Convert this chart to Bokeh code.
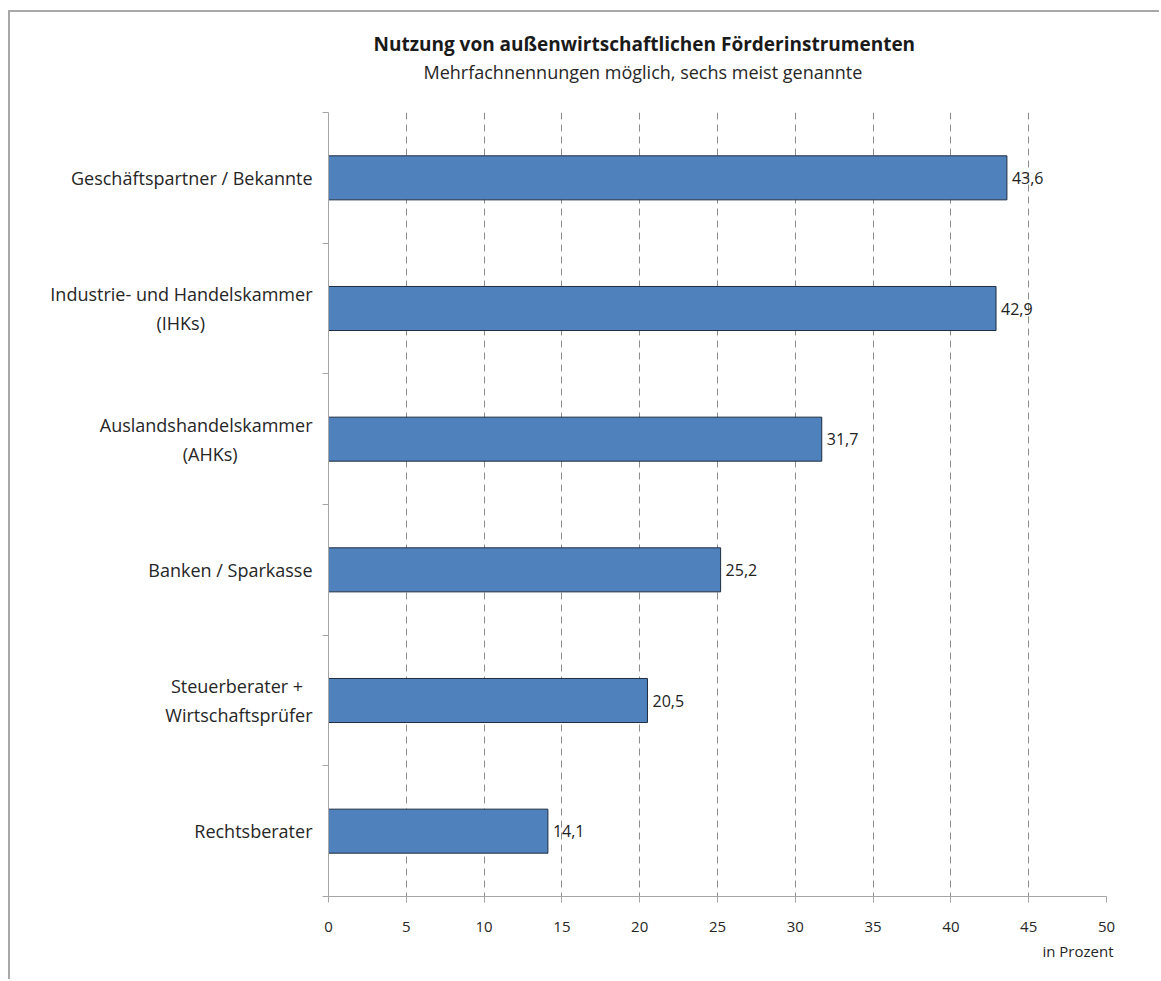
from bokeh.plotting import figure
from bokeh.models import Range1d, FixedTicker, Title, ColumnDataSource
from bokeh.embed import file_html
from bokeh.resources import INLINE
from bokeh.core.properties import value

categories = [
    "Geschäftspartner / Bekannte",
    "Industrie- und Handelskammer\n(IHKs)",
    "Auslandshandelskammer\n(AHKs)",
    "Banken / Sparkasse",
    "Steuerberater +\nWirtschaftsprüfer",
    "Rechtsberater",
]
values = [43.6, 42.9, 31.7, 25.2, 20.5, 14.1]
value_labels = ["43,6", "42,9", "31,7", "25,2", "20,5", "14,1"]
x_ticks = [0, 5, 10, 15, 20, 25, 30, 35, 40, 45, 50]

FONT = "Open Sans"


def centered_lines(label, avg_char=0.55, space=0.26):
    """Pad shorter lines of a multi-line label with no-break spaces so the
    lines look centred under a right-aligned axis label."""
    lines = label.split("\n")
    if len(lines) == 1:
        return label
    longest = max(len(s) for s in lines)
    out = []
    for s in lines:
        pad = int(round((longest - len(s)) / 2 * avg_char / space))
        out.append(s + "\u00a0" * pad)
    return "\n".join(out)


positions = [i + 0.5 for i in range(len(categories))]
src = ColumnDataSource(dict(y=positions, v=values, lab=value_labels))

W, H = 1151, 969
p = figure(width=W, height=H, output_backend="svg", toolbar_location=None,
           x_range=Range1d(0, 50), y_range=Range1d(len(categories), 0),
           min_border_left=318, min_border_right=55, min_border_top=100,
           min_border_bottom=85)
p.outline_line_color = None
p.background_fill_color = "white"
p.border_fill_color = "white"
p.styles = {"border-top": "2px solid #a8a8a8", "border-left": "2px solid #a8a8a8",
            "margin-left": "8px", "margin-top": "10px"}

p.hbar(y="y", right="v", left=0, height=0.337, source=src,
       fill_color="#4F81BD", line_color="#1F2D40", line_width=1)
p.text(x="v", y="y", text="lab", source=src, x_offset=5,
       text_baseline="middle", text_align="left",
       text_font=value(FONT), text_font_size="16px", text_color="#222222")

# x axis
xa = p.xaxis[0]
xa.ticker = FixedTicker(ticks=x_ticks)
xa.axis_line_color = "#a6a6a6"
xa.major_tick_line_color = "#a6a6a6"
xa.major_tick_in = 0
xa.major_tick_out = 6
xa.minor_tick_line_color = None
xa.major_label_text_font = FONT
xa.major_label_text_font_size = "15px"
xa.major_label_text_color = "#262626"
xa.major_label_standoff = 19

# y axis
ya = p.yaxis[0]
ya.ticker = FixedTicker(ticks=positions, minor_ticks=list(range(len(categories) + 1)))
ya.major_label_overrides = {pos: centered_lines(cat) for pos, cat in zip(positions, categories)}
ya.axis_line_color = "#a6a6a6"
ya.major_tick_line_color = None
ya.minor_tick_line_color = "#a6a6a6"
ya.minor_tick_in = 0
ya.minor_tick_out = 6
ya.major_label_text_font = FONT
ya.major_label_text_font_size = "18px"
ya.major_label_text_color = "#262626"
ya.major_label_standoff = 10

p.xgrid.grid_line_color = "#8c8c8c"
p.xgrid.grid_line_dash = "7 5"
p.xgrid.grid_line_width = 1
p.xgrid.ticker = FixedTicker(ticks=x_ticks[1:])
p.ygrid.grid_line_color = None

# spacer between subtitle and plot area
p.add_layout(Title(text="\u00a0", text_font_size="1px", standoff=25), "above")
sub = Title(text="Mehrfachnennungen möglich, sechs meist genannte",
            align="left", offset=95, standoff=2,
            text_font=FONT, text_font_size="18px", text_font_style="normal",
            text_color="#262626")
main = Title(text="Nutzung von außenwirtschaftlichen Förderinstrumenten",
             align="left", offset=45, standoff=0,
             text_font=FONT, text_font_size="19px", text_font_style="bold",
             text_color="#1a1a1a")
p.add_layout(sub, "above")
p.add_layout(main, "above")

unit = Title(text="in Prozent", align="right", offset=-7, standoff=8,
             text_font=FONT, text_font_size="15px", text_font_style="normal",
             text_color="#262626")
p.add_layout(unit, "below")

open("out.html", "w").write(file_html(p, INLINE))
